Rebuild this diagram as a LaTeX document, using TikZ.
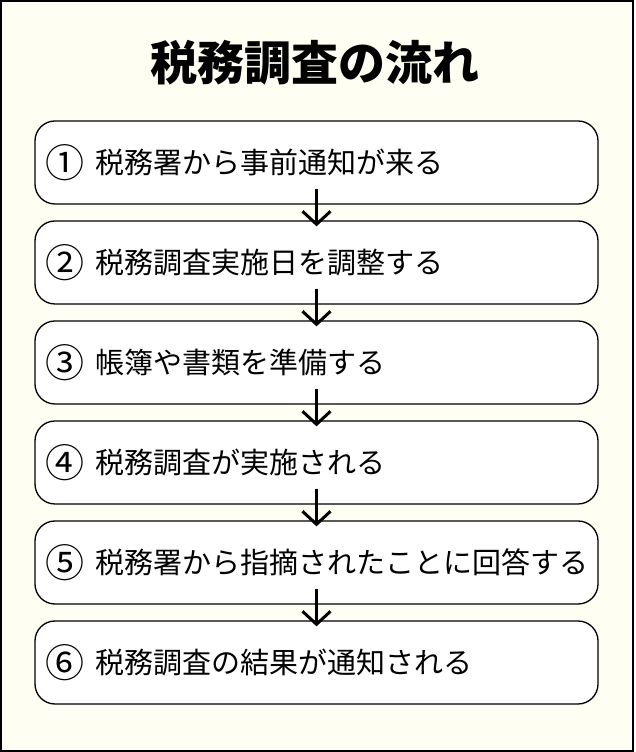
\documentclass[tikz,border=0pt]{standalone}
\usepackage{fontspec}
\setmainfont{Noto Sans CJK JP}
\usepackage{tikz}
\usetikzlibrary{arrows.meta}

\definecolor{paper}{RGB}{254,254,242}

% larger circled number in front of each step
\newcommand{\circnum}[1]{\raisebox{-3.6pt}{\fontsize{39}{39}\selectfont #1}\hspace{11pt}}

\tikzset{
  stepbox/.style={draw=black, line width=1.3pt, fill=white,
    rounded corners=20pt, minimum width=563pt, minimum height=83pt},
  flow/.style={line width=3pt,
    -{Straight Barb[length=13pt,width=28pt,line width=3pt]}}
}

\begin{document}
\begin{tikzpicture}[x=1pt,y=1pt]
\useasboundingbox (0,0) rectangle (636,752);
\draw[line width=1.5pt, fill=paper] (1,1) rectangle (633,751);

\node (title) at (315,689) {\fontsize{47}{52}\selectfont\bfseries 税務調査の流れ};

\foreach \i/\n/\txt in {
  1/①/税務署から事前通知が来る,
  2/②/税務調査実施日を調整する,
  3/③/帳簿や書類を準備する,
  4/④/税務調査が実施される,
  5/⑤/税務署から指摘されたことに回答する,
  6/⑥/税務調査の結果が通知される}
{
  \node[stepbox] (step\i) at (316.5,{589.5-100*(\i-1)}) {};
  \node[anchor=west, inner sep=0pt, font=\fontsize{29}{30}\selectfont]
    (label\i) at ([xshift=11pt]step\i.west) {\circnum{\n}\txt};
}

\foreach \i [evaluate=\i as \j using int(\i+1)] in {1,...,5}
  \draw[flow] ([yshift=16pt]step\i.south) -- ([yshift=-6pt]step\j.north);

\end{tikzpicture}
\end{document}
